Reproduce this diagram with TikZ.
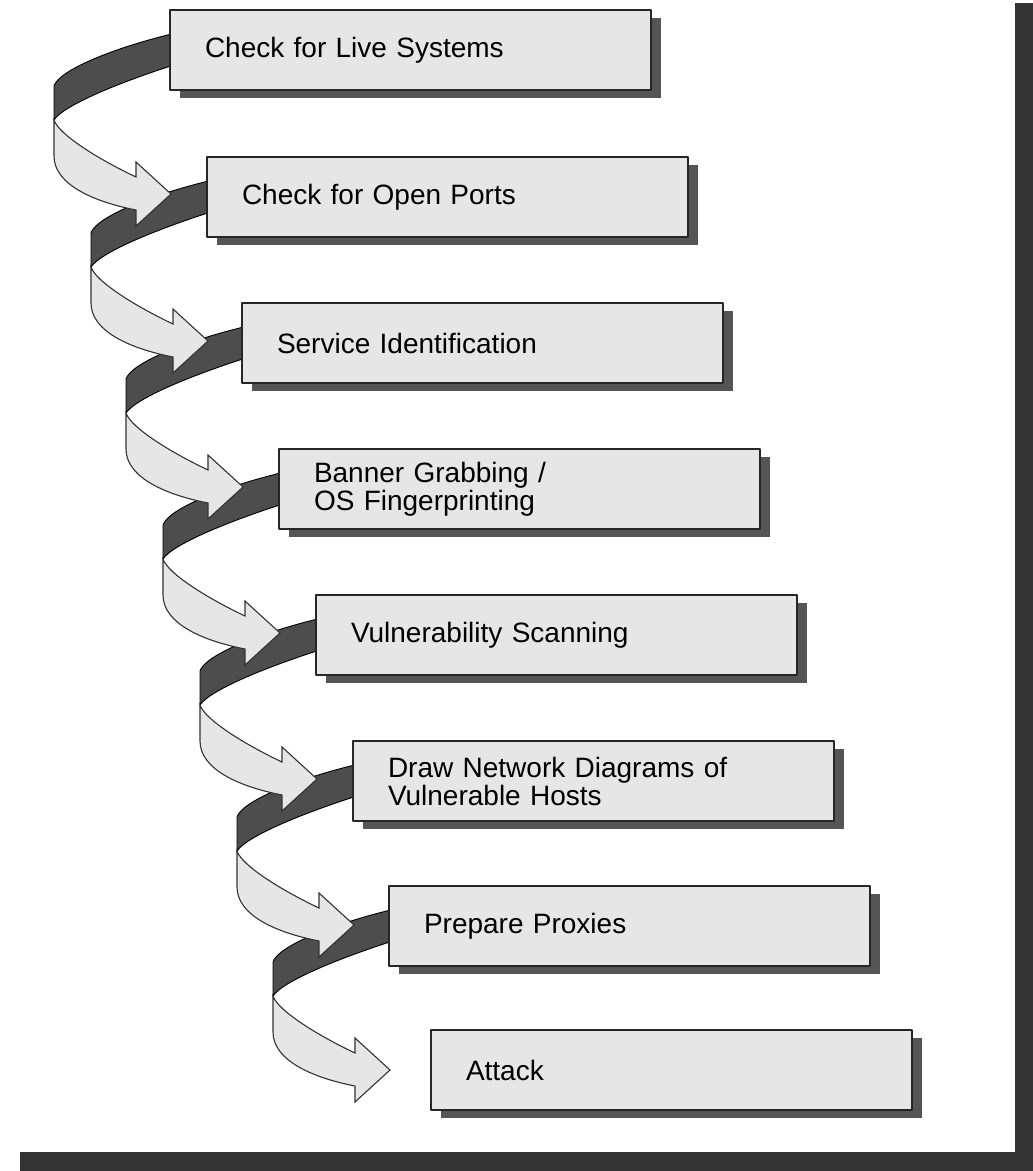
\documentclass[tikz,border=0pt]{standalone}
\usepackage{fontspec}
\setmainfont{Liberation Sans}
\usetikzlibrary{shadows}
\definecolor{boxgray}{HTML}{E6E6E6}
\definecolor{bandgray}{HTML}{4D4D4D}
\definecolor{shadegray}{HTML}{555555}
\definecolor{framegray}{HTML}{333333}
\pgfdeclarelayer{back}
\pgfdeclarelayer{mid}
\pgfsetlayers{back,mid,main}
\begin{document}
\begin{tikzpicture}[x=1pt, y=-1pt, line join=round, line cap=round, font=\fontsize{28}{28}\selectfont,
		stepbox/.style={draw=black!85, line width=1.6pt, fill=boxgray, anchor=north west, align=left,
			minimum height=80pt, text width=411pt, inner xsep=35pt, inner ysep=0pt, outer sep=0pt,
			drop shadow={shadow xshift=10pt, shadow yshift=-8pt, fill=shadegray, opacity=1}},
		band/.style={fill=bandgray, draw=black, line width=0.9pt},
		turn/.style={fill=boxgray, draw=black!80, line width=1.1pt}]
		\useasboundingbox (0,0) rectangle (1033,1171);
		\fill[framegray] (1015,3) rectangle (1033,1171) (20,1152) rectangle (1033,1171);
		\foreach \n/\x/\y/\t in {1/170/10/Check for Live Systems, 2/207/157/Check for Open Ports,
			3/242/303/Service Identification, 4/279/449/{Banner Grabbing /\\OS Fingerprinting},
			5/316/595/Vulnerability Scanning, 6/353/741/{Draw Network Diagrams of\\Vulnerable Hosts},
			7/389/886/Prepare Proxies, 8/431/1030/Attack}
		\node[stepbox] (b\n) at (\x,\y) {\t};
		\begin{pgfonlayer}{back}
			\foreach \n in {1,...,7}
			\draw[band, shift={(b\n.north west)}] (10,22) .. controls (-55,37) and (-111,60) .. (-116,76) -- (-116,110)
			.. controls (-106,95) and (-50,72) .. (10,53) -- cycle;
		\end{pgfonlayer}
		\begin{pgfonlayer}{mid}
			\foreach \n in {1,...,7}
			\draw[turn, shift={(b\n.north west)}] (-116,110) -- (-116,146) .. controls (-116,175) and (-75,192) .. (-34,200)
			-- (-34,216) -- (1,184) -- (-34,152) -- (-34,167) .. controls (-70,150) and (-111,125) .. (-116,110) -- cycle;
		\end{pgfonlayer}
	\end{tikzpicture}
\end{document}
